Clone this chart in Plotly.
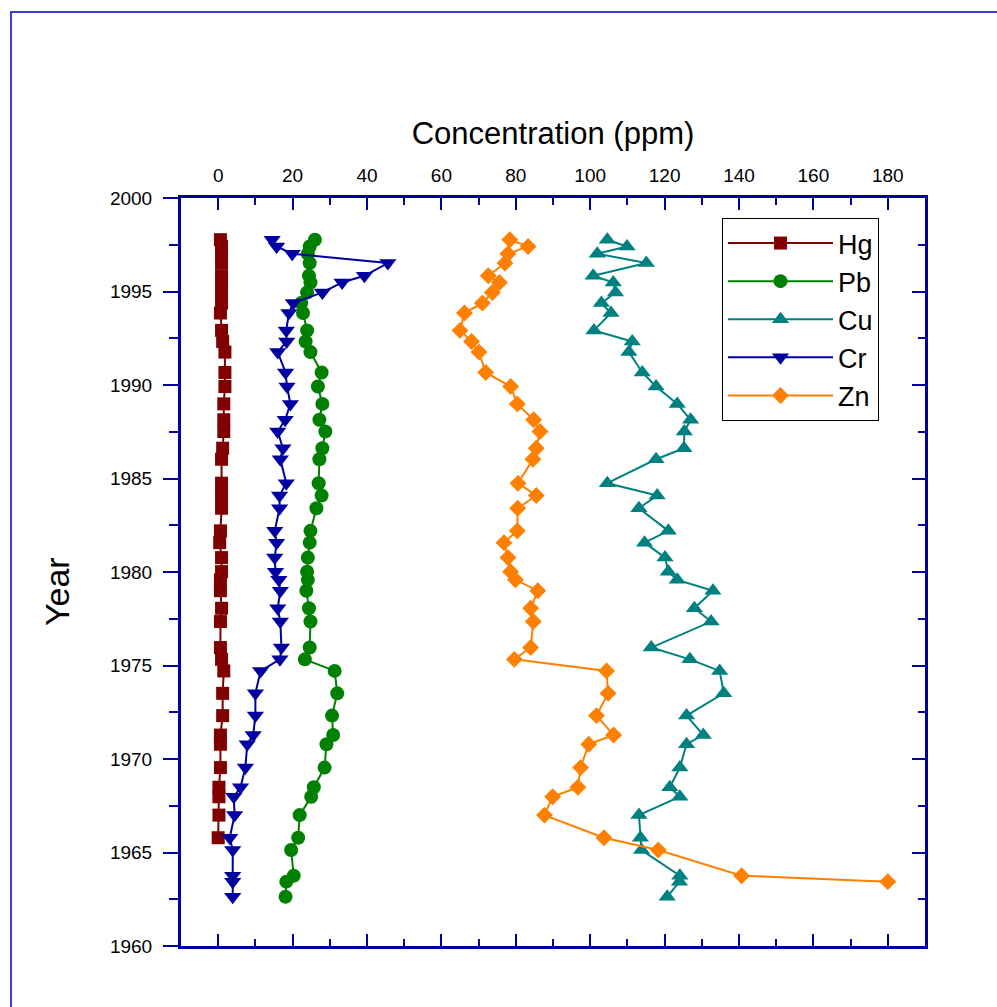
import plotly.graph_objects as go

# Sample years (shared depth horizons)
years = [1997.77, 1997.41, 1997.02, 1996.52, 1995.84, 1995.48, 1994.95, 1994.38, 1993.85,
         1992.92, 1992.33, 1991.76, 1990.67, 1989.92, 1988.99, 1988.14, 1987.51, 1986.62,
         1986.03, 1984.75, 1984.09, 1983.41, 1982.20, 1981.57, 1980.77, 1980.02, 1979.58,
         1979.00, 1978.06, 1977.35, 1975.96, 1975.33, 1974.71, 1973.51, 1972.32, 1971.28,
         1970.79, 1969.54, 1968.49, 1967.98, 1967.00, 1965.79, 1965.13, 1963.76, 1963.44,
         1962.63]

hg = [0.6, 0.9, 0.9, 0.9, 0.9, 0.9, 0.9, 0.9, 0.6, 0.9, 1.2, 1.8, 1.8, 1.8, 1.5,
      1.5, 1.5, 1.2, 0.9, 0.9, 0.9, 0.9, 0.6, 0.4, 0.9, 0.9, 0.6, 0.6, 0.9, 0.6, 0.6, 0.9, 1.5,
      1.2, 1.2, 0.6, 0.6, 0.6, 0.2, 0.2, 0.2, 0.0]
pb = [26.0, 24.6, 24.1, 24.6, 24.4, 24.8, 23.9, 22.3, 22.8, 23.9, 23.5, 24.8, 27.8, 26.8, 28.0,
      27.2, 28.8, 28.0, 27.2, 27.0, 27.8, 26.4, 24.8, 24.6, 24.1, 23.9, 24.1, 23.7, 24.4, 24.8,
      24.6, 23.3, 31.3, 32.0, 30.6, 30.9, 29.1, 28.6, 25.7, 25.0, 21.9, 21.5, 19.6, 20.3, 18.3, 18.1]
cu = [104.6, 109.9, 101.9, 115.1, 100.8, 106.2, 106.8, 103.0, 105.6, 101.0, 111.3, 110.4, 114.0,
      117.7, 123.4, 127.0, 125.3, 125.2, 117.7, 104.6, 118.0, 113.1, 121.0, 114.6, 120.1, 121.0,
      123.4, 133.0, 128.0, 132.5, 116.4, 126.8, 134.8, 135.9, 125.9, 130.4, 125.9, 124.1, 121.4,
      124.1, 113.1, 113.5, 113.8, 124.1, 124.0, 120.7]
cr = [14.5, 15.7, 19.9, 45.6, 39.3, 33.3, 28.0, 20.2, 19.0, 18.3, 18.4, 16.0, 18.1, 18.5, 19.4,
      18.0, 16.0, 17.4, 16.7, 18.3, 16.5, 16.5, 15.2, 15.7, 15.2, 15.4, 16.3, 16.7, 16.0, 16.7,
      17.0, 16.6, 11.4, 10.0, 10.0, 9.4, 7.8, 7.3, 6.0, 4.2, 4.4, 3.1, 3.9, 3.9, 3.9, 3.9]
zn = [78.4, 83.3, 77.9, 77.1, 72.6, 75.6, 73.7, 71.0, 66.2, 65.0, 68.1, 70.1, 71.9, 78.6, 80.4,
      84.8, 86.5, 85.5, 84.6, 80.6, 85.5, 80.5, 80.4, 76.8, 77.9, 78.6, 79.9, 85.9, 84.0, 84.7,
      84.0, 79.6, 104.4, 104.8, 101.7, 106.3, 99.6, 97.4, 96.7, 89.9, 87.7, 103.7, 118.3, 140.7,
      180.0]

series = [
    ("Hg", hg, "#800000", "square", 13),
    ("Pb", pb, "#008000", "circle", 14),
    ("Cu", cu, "#008080", "triangle-up", 15),
    ("Cr", cr, "#0000A0", "triangle-down", 15),
    ("Zn", zn, "#FF8000", "diamond", 13),
]

FONT = "Liberation Sans, Arial, sans-serif"
AXC = "#0000A0"

fig = go.Figure()
for name, vals, color, sym, size in series:
    fig.add_trace(go.Scatter(
        x=vals, y=years[:len(vals)], name=name, mode="lines+markers",
        line=dict(color=color, width=2),
        marker=dict(symbol=sym, size=size, color=color, line=dict(width=0)),
    ))

# helper trace so the right-hand mirror axis is drawn
fig.add_trace(go.Scatter(x=[None], y=[None], yaxis="y2", showlegend=False,
                         hoverinfo="skip"))

W, H = 997, 1007
L, R, T, B = 181, 72, 198, 61
pw, ph = W - L - R, H - T - B

fig.update_layout(
    width=W, height=H,
    margin=dict(l=L, r=R, t=T, b=B),
    paper_bgcolor="white", plot_bgcolor="white",
    font=dict(family=FONT, color="black"),
    xaxis=dict(
        side="top", range=[-10, 190], tick0=0, dtick=20,
        ticks="inside", ticklen=12, tickwidth=2, tickcolor=AXC,
        showline=True, linecolor=AXC, linewidth=3, mirror="ticks",
        showgrid=False, zeroline=False,
        tickfont=dict(size=19, family=FONT), ticklabelstandoff=5,
        minor=dict(dtick=10, tick0=0, ticks="inside", ticklen=7, tickwidth=2,
                   tickcolor=AXC, showgrid=False),
        title=dict(text="Concentration (ppm)", font=dict(size=31, family=FONT), standoff=12),
    ),
    yaxis=dict(
        range=[1960, 2000], tick0=1960, dtick=5,
        ticks="outside", ticklen=15, tickwidth=2, tickcolor=AXC,
        showline=True, linecolor=AXC, linewidth=3,
        showgrid=False, zeroline=False,
        tickfont=dict(size=19, family=FONT), ticklabelstandoff=7,
        minor=dict(dtick=2.5, tick0=1960, ticks="outside", ticklen=9, tickwidth=2,
                   tickcolor=AXC, showgrid=False),
    ),
    yaxis2=dict(
        overlaying="y", side="right", range=[1960, 2000], tick0=1960, dtick=5,
        ticks="inside", ticklen=13, tickwidth=2, tickcolor=AXC,
        showline=True, linecolor=AXC, linewidth=3,
        showgrid=False, zeroline=False, showticklabels=False,
        minor=dict(dtick=2.5, tick0=1960, ticks="inside", ticklen=7, tickwidth=2,
                   tickcolor=AXC, showgrid=False),
    ),
    legend=dict(
        x=(722 - L) / pw, y=1 - (218 - T) / ph, xanchor="left", yanchor="top",
        bgcolor="white", bordercolor="black", borderwidth=1,
        font=dict(size=27, family=FONT), itemwidth=105,
        tracegroupgap=0,
    ),
    annotations=[dict(
        text="Year", textangle=-90, showarrow=False,
        xref="paper", yref="paper",
        x=(57 - L) / pw, y=1 - (592 - T) / ph,
        xanchor="center", yanchor="middle",
        font=dict(size=34, family=FONT, color="black"),
    )],
    shapes=[dict(
        type="rect", xref="paper", yref="paper",
        x0=(11 - L) / pw, x1=(1010 - L) / pw,
        y0=1 - (1010 - T) / ph, y1=1 - (12 - T) / ph,
        line=dict(color="#3c3cdc", width=2), layer="below",
    )],
    showlegend=True,
)

fig.write_html("out.html", post_script="document.body.style.margin='0';",
               config={"displayModeBar": False})
